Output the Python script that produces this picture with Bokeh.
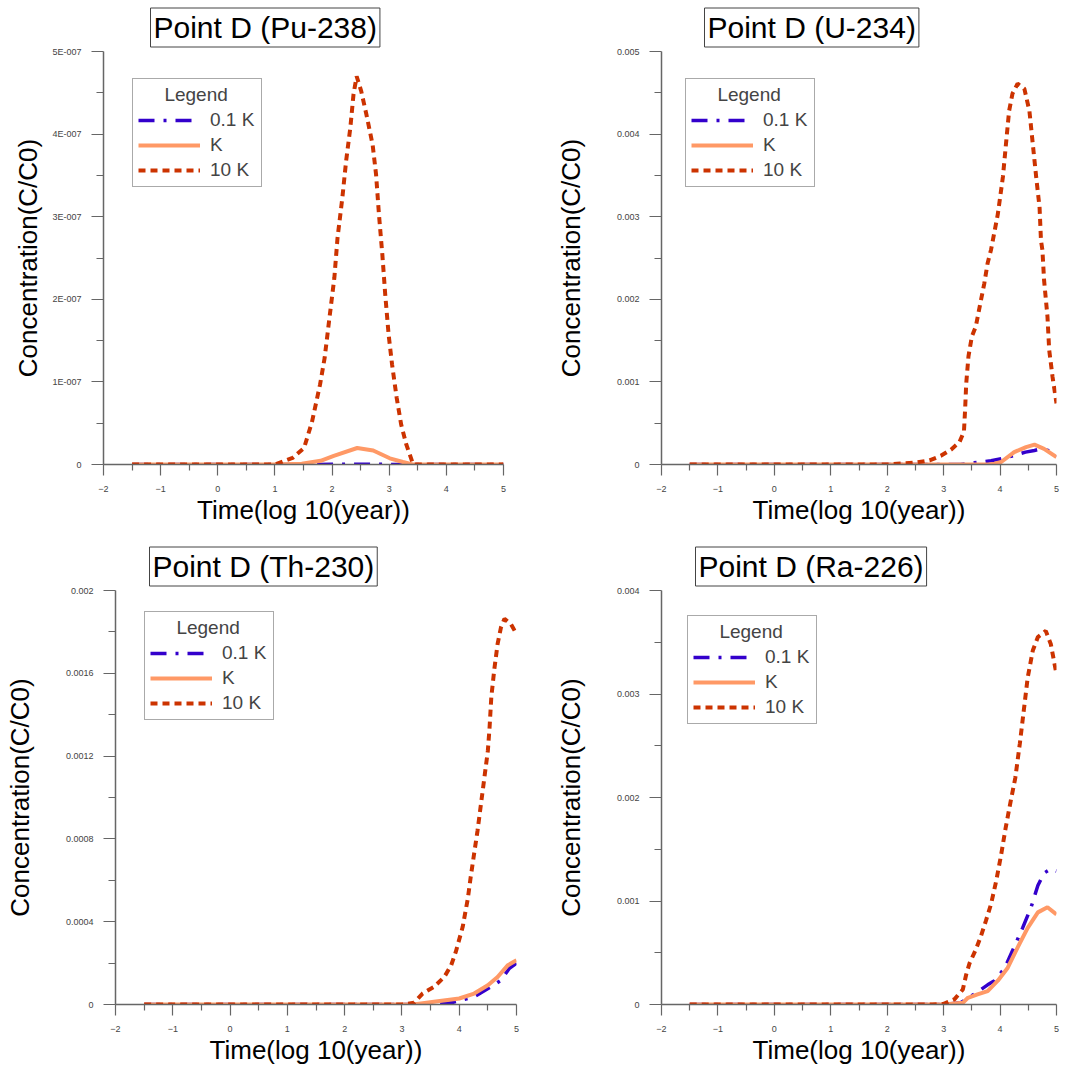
from bokeh.plotting import figure
from bokeh.layouts import column, row
from bokeh.models import (FixedTicker, Legend, LegendItem, Range1d, Title,
                          CustomJSTickFormatter)
from bokeh.embed import file_html
from bokeh.resources import INLINE

# ---------------- data ----------------
x_ticks = [-2, -1, 0, 1, 2, 3, 4, 5]
x_minor = [-1.5, -0.5, 0.5, 1.5, 2.5, 3.5, 4.5]
series_labels = ["0.1 K", "K", "10 K"]
x_title = "Time(log 10(year))"
y_title = "Concentration(C/C0)"

# Pu-238
pu_title = "Point D (Pu-238)"
pu_yticks = [0, 1e-7, 2e-7, 3e-7, 4e-7, 5e-7]
pu_ylabels = ["0", "1E-007", "2E-007", "3E-007", "4E-007", "5E-007"]
pu_x_01k = [-1.5, 1.5, 2.0, 2.45, 2.9, 3.3, 5.0]
pu_y_01k = [0, 0, 0.002e-7, 0.004e-7, 0.002e-7, 0, 0]
pu_x_k = [-1.5, 1.0, 1.47, 1.8, 2.03, 2.44, 2.72, 3.01, 3.24, 3.41, 5.0]
pu_y_k = [0, 0, 0.01e-7, 0.045e-7, 0.105e-7, 0.2e-7, 0.17e-7, 0.075e-7, 0.03e-7, 0, 0]
pu_x_10k = [-1.5, 1.0, 1.31, 1.51, 1.65, 1.79, 1.87, 1.955, 2.04, 2.095, 2.18, 2.245,
            2.32, 2.375, 2.43, 2.51, 2.6, 2.71, 2.77, 2.82, 2.88, 2.93, 2.99, 3.05,
            3.13, 3.21, 3.30, 3.42, 5.0]
pu_y_10k = [0, 0, 0.08e-7, 0.20e-7, 0.52e-7, 0.97e-7, 1.29e-7, 1.78e-7, 2.26e-7, 2.74e-7,
            3.23e-7, 3.67e-7, 4.08e-7, 4.48e-7, 4.70e-7, 4.52e-7, 4.24e-7, 3.87e-7,
            3.51e-7, 3.03e-7, 2.54e-7, 2.06e-7, 1.57e-7, 1.21e-7, 0.81e-7, 0.48e-7,
            0.24e-7, 0, 0]

# U-234
u_title = "Point D (U-234)"
u_yticks = [0, 0.001, 0.002, 0.003, 0.004, 0.005]
u_ylabels = ["0", "0.001", "0.002", "0.003", "0.004", "0.005"]
u_x_01k = [-1.5, 3.3, 3.54, 3.84, 4.02, 4.25, 4.45, 4.61, 4.73, 4.85, 5.0]
u_y_01k = [0, 0, 0.02e-3, 0.045e-3, 0.07e-3, 0.11e-3, 0.15e-3, 0.17e-3, 0.19e-3,
           0.17e-3, 0.10e-3]
u_x_k = [-1.5, 3.8, 3.9, 4.02, 4.25, 4.46, 4.61, 4.78, 5.0]
u_y_k = [0, 0, 0.01e-3, 0.03e-3, 0.15e-3, 0.21e-3, 0.24e-3, 0.19e-3, 0.09e-3]
u_x_10k = [-1.5, 2.0, 2.51, 2.75, 2.95, 3.13, 3.28, 3.36, 3.38, 3.40, 3.44, 3.50, 3.57,
           3.65, 3.72, 3.78, 3.84, 3.96, 4.05, 4.11, 4.16, 4.22, 4.31, 4.43, 4.52, 4.58,
           4.64, 4.70, 4.725, 4.75, 4.78, 4.84, 4.87, 4.93, 5.0]
u_y_10k = [0, 0, 0.024e-3, 0.05e-3, 0.105e-3, 0.18e-3, 0.27e-3, 0.40e-3, 0.66e-3,
           0.98e-3, 1.31e-3, 1.55e-3, 1.67e-3, 1.95e-3, 2.19e-3, 2.44e-3, 2.60e-3,
           3.03e-3, 3.48e-3, 3.92e-3, 4.28e-3, 4.49e-3, 4.61e-3, 4.55e-3, 4.28e-3,
           3.88e-3, 3.48e-3, 3.11e-3, 2.71e-3, 2.60e-3, 2.23e-3, 1.79e-3, 1.39e-3,
           1.06e-3, 0.74e-3]

# Th-230
th_title = "Point D (Th-230)"
th_yticks = [0, 0.0004, 0.0008, 0.0012, 0.0016, 0.002]
th_ylabels = ["0", "0.0004", "0.0008", "0.0012", "0.0016", "0.002"]
th_x_01k = [-1.5, 3.5, 3.86, 4.26, 4.55, 4.73, 4.87, 5.0]
th_y_01k = [0, 0, 0.08e-4, 0.37e-4, 0.85e-4, 1.17e-4, 1.73e-4, 2.0e-4]
th_x_k = [-1.5, 3.2, 3.56, 4.0, 4.26, 4.5, 4.67, 4.85, 5.0]
th_y_k = [0, 0, 0.13e-4, 0.29e-4, 0.53e-4, 0.93e-4, 1.33e-4, 1.90e-4, 2.14e-4]
th_x_10k = [-1.5, 3.0, 3.21, 3.36, 3.56, 3.74, 3.86, 3.94, 4.06, 4.15, 4.20, 4.26, 4.32,
            4.38, 4.44, 4.50, 4.53, 4.56, 4.61, 4.67, 4.73, 4.79, 4.90, 5.0]
th_y_10k = [0, 0, 0.08e-4, 0.53e-4, 0.85e-4, 1.33e-4, 1.90e-4, 2.54e-4, 3.74e-4, 5.11e-4,
            6.15e-4, 7.28e-4, 8.40e-4, 9.69e-4, 10.97e-4, 12.26e-4, 13.39e-4, 14.84e-4,
            16.13e-4, 17.42e-4, 18.23e-4, 18.63e-4, 18.39e-4, 17.90e-4]

# Ra-226
ra_title = "Point D (Ra-226)"
ra_yticks = [0, 0.001, 0.002, 0.003, 0.004]
ra_ylabels = ["0", "0.001", "0.002", "0.003", "0.004"]
ra_x_01k = [-1.5, 3.0, 3.3, 3.54, 3.78, 3.9, 4.08, 4.22, 4.4, 4.55, 4.67, 4.78, 4.9, 5.0]
ra_y_01k = [0, 0, 0.016e-3, 0.10e-3, 0.19e-3, 0.23e-3, 0.35e-3, 0.52e-3, 0.74e-3,
            0.94e-3, 1.15e-3, 1.27e-3, 1.31e-3, 1.29e-3]
ra_x_k = [-1.5, 3.0, 3.34, 3.43, 3.6, 3.78, 3.96, 4.13, 4.31, 4.49, 4.67, 4.84, 5.0]
ra_y_k = [0, 0, 0.016e-3, 0.065e-3, 0.097e-3, 0.13e-3, 0.23e-3, 0.35e-3, 0.55e-3,
          0.74e-3, 0.89e-3, 0.94e-3, 0.87e-3]
ra_x_10k = [-1.5, 2.8, 3.0, 3.19, 3.34, 3.40, 3.46, 3.57, 3.66, 3.75, 3.84, 3.93, 4.02,
            4.10, 4.19, 4.27, 4.35, 4.42, 4.49, 4.58, 4.67, 4.81, 4.90, 5.0]
ra_y_10k = [0, 0, 0.006e-3, 0.05e-3, 0.145e-3, 0.29e-3, 0.40e-3, 0.53e-3, 0.66e-3,
            0.81e-3, 0.97e-3, 1.19e-3, 1.45e-3, 1.71e-3, 1.97e-3, 2.19e-3, 2.52e-3,
            2.84e-3, 3.16e-3, 3.42e-3, 3.55e-3, 3.61e-3, 3.48e-3, 3.19e-3]

# ---------------- style ----------------
FONT = "Liberation Sans"
C01 = "#3300CC"
CK = "#FF9966"
C10 = "#CC3300"
AXC = "#666666"


def make_panel(title, yticks, ylabels, series, geo):
    (w, h, mbl, mbr, mbt, mbb, title_off, leg_xy, y_als, x_als) = geo
    ymax = yticks[-1]
    ttl = Title(text=title, align="left", offset=title_off, standoff=9,
                text_font=FONT, text_font_size="30px", text_font_style="normal",
                text_color="black", border_line_color="#444444", border_line_width=1,
                background_fill_color="white", padding=3)
    p = figure(width=w, height=h, title=ttl,
               x_range=Range1d(-2, 5), y_range=Range1d(0, ymax),
               output_backend="svg", toolbar_location=None, tools="",
               min_border_left=mbl, min_border_right=mbr,
               min_border_top=mbt, min_border_bottom=mbb)
    p.outline_line_color = None
    p.grid.visible = False
    p.background_fill_color = "white"
    p.border_fill_color = "white"

    xa = p.xaxis[0]
    xa.ticker = FixedTicker(ticks=x_ticks, minor_ticks=x_minor)
    ya = p.yaxis[0]
    yminor = [(yticks[i] + yticks[i + 1]) / 2 for i in range(len(yticks) - 1)]
    ya.ticker = FixedTicker(ticks=yticks, minor_ticks=yminor)
    ya.formatter = CustomJSTickFormatter(args=dict(tvals=yticks, tlabs=ylabels), code="""
        let best = 0, bd = Infinity;
        for (let i = 0; i < tvals.length; i++) {
            const d = Math.abs(tvals[i] - tick);
            if (d < bd) { bd = d; best = i; }
        }
        return tlabs[best];
    """)
    for ax in (xa, ya):
        ax.axis_line_color = AXC
        ax.axis_line_width = 1.5
        ax.major_tick_line_color = AXC
        ax.minor_tick_line_color = AXC
        ax.major_tick_line_width = 1.2
        ax.minor_tick_line_width = 1.2
        ax.major_tick_in = 0
        ax.minor_tick_in = 0
        ax.major_label_text_font = FONT
        ax.major_label_text_font_size = "9px"
        ax.major_label_text_color = "#444444"
        ax.major_label_standoff = 10
        ax.axis_label_text_font = FONT
        ax.axis_label_text_font_size = "26px"
        ax.axis_label_text_font_style = "normal"
        ax.axis_label_text_color = "black"
    xa.major_tick_out = 11
    xa.minor_tick_out = 6
    ya.major_tick_out = 12
    ya.minor_tick_out = 7
    xa.axis_label = x_title
    ya.axis_label = y_title
    xa.axis_label_standoff = x_als
    ya.axis_label_standoff = y_als

    (x01, y01), (xk, yk), (x10, y10) = series
    r1 = p.line(x01, y01, line_color=C01, line_width=3.5, line_dash="16 9 3 9")
    r2 = p.line(xk, yk, line_color=CK, line_width=4)
    r3 = p.line(x10, y10, line_color=C10, line_width=4, line_dash="7 5")

    leg = Legend(items=[LegendItem(label=series_labels[0], renderers=[r1]),
                        LegendItem(label=series_labels[1], renderers=[r2]),
                        LegendItem(label=series_labels[2], renderers=[r3])],
                 location=leg_xy, title="\u00a0" * 5 + "Legend",
                 title_text_font=FONT, title_text_font_size="19px",
                 title_text_font_style="normal", title_standoff=3,
                 label_text_font=FONT, label_text_font_size="19px",
                 glyph_width=62, glyph_height=20, label_height=20, label_width=46,
                 label_standoff=10, spacing=3, padding=5, margin=0,
                 border_line_color="#555555", border_line_width=1,
                 background_fill_color="white", background_fill_alpha=1.0)
    p.add_layout(leg)
    return p


# geometry: (w, h, mbl, mbr, mbt, mbb, title offset, legend(x,y), y_label_standoff, x_label_standoff)
p1 = make_panel(pu_title, pu_yticks, pu_ylabels,
                [(pu_x_01k, pu_y_01k), (pu_x_k, pu_y_k), (pu_x_10k, pu_y_10k)],
                (540, 530, 103, 37, 51, 66, 47, (29, 277), 6, 0))
p2 = make_panel(u_title, u_yticks, u_ylabels,
                [(u_x_01k, u_y_01k), (u_x_k, u_y_k), (u_x_10k, u_y_10k)],
                (547, 530, 121, 31, 51, 66, 43, (24, 277), 28, 0))
p3 = make_panel(th_title, th_yticks, th_ylabels,
                [(th_x_01k, th_y_01k), (th_x_k, th_y_k), (th_x_10k, th_y_10k)],
                (540, 540, 115, 24, 60, 66, 34, (29, 284), 28, 0))
p4 = make_panel(ra_title, ra_yticks, ra_ylabels,
                [(ra_x_01k, ra_y_01k), (ra_x_k, ra_y_k), (ra_x_10k, ra_y_10k)],
                (547, 540, 121, 31, 60, 66, 34, (26, 280), 28, 0))

layout = column(row(p1, p2), row(p3, p4))

open("out.html", "w").write(file_html(layout, INLINE))
